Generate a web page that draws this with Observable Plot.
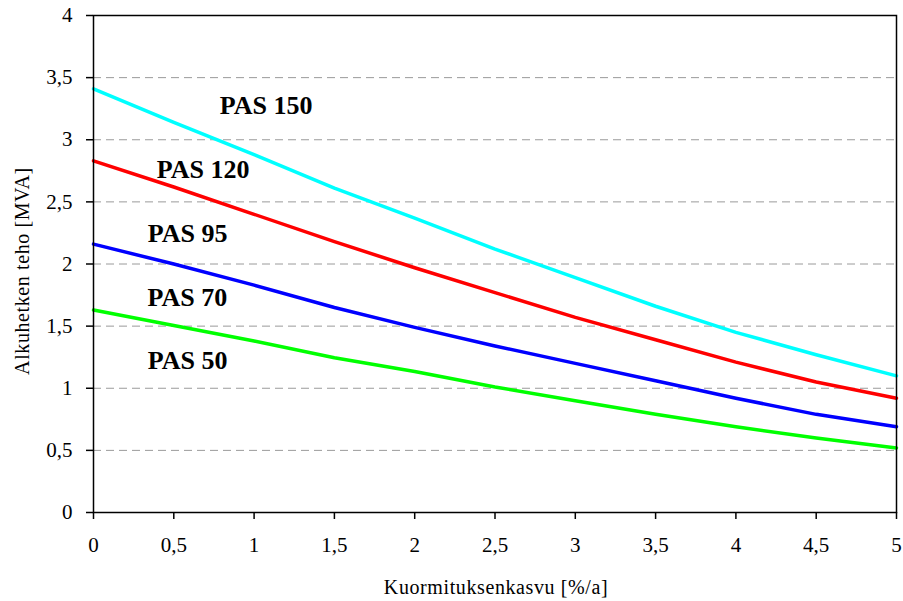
<!DOCTYPE html>
<html>
<head>
<meta charset="utf-8">
<script src="https://cdn.jsdelivr.net/npm/d3@7"></script>
<script src="https://cdn.jsdelivr.net/npm/@observablehq/plot@0.6"></script>
<style>
  html, body { margin: 0; padding: 0; background: #fff; }
  svg text { font-family: "Liberation Serif", "Times New Roman", serif; }
</style>
</head>
<body>
<div id="chart"></div>
<script>
// X values: load growth [%/a]
const growth = [0, 0.5, 1, 1.5, 2, 2.5, 3, 3.5, 4, 4.5, 5];

// Series values: initial power [MVA]
const cyanSeries  = [3.41, 3.14, 2.88, 2.61, 2.37, 2.12, 1.89, 1.66, 1.45, 1.27, 1.10];
const redSeries   = [2.83, 2.62, 2.40, 2.18, 1.97, 1.77, 1.57, 1.39, 1.21, 1.05, 0.92];
const blueSeries  = [2.16, 2.00, 1.83, 1.65, 1.49, 1.34, 1.20, 1.06, 0.92, 0.79, 0.69];
const greenSeries = [1.63, 1.505, 1.38, 1.245, 1.135, 1.01, 0.90, 0.79, 0.69, 0.60, 0.52];

const seriesNames  = ["s1", "s2", "s3", "s4"];
const seriesValues = [cyanSeries, redSeries, blueSeries, greenSeries];
const seriesColors = ["#00FFFF", "#FF0000", "#0000FF", "#00FF00"];

// In-plot labels
const labelTexts = ["PAS 150", "PAS 120", "PAS 95", "PAS 70", "PAS 50"];
const labelX     = [0.786, 0.394, 0.338, 0.336, 0.338];
const labelY     = [3.278, 2.763, 2.248, 1.725, 1.218];

// Ticks
const xTicks = [0, 0.5, 1, 1.5, 2, 2.5, 3, 3.5, 4, 4.5, 5];
const yTicks = [0, 0.5, 1, 1.5, 2, 2.5, 3, 3.5, 4];

const xTitle = "Kuormituksenkasvu [%/a]";
const yTitle = "Alkuhetken teho [MVA]";

const FONT = "Liberation Serif, Times New Roman, serif";
const fmt = d => String(d).replace(".", ",");

const rows = [];
seriesNames.forEach((s, i) => {
  growth.forEach((g, j) => rows.push({series: s, x: g, y: seriesValues[i][j]}));
});
const labels = labelTexts.map((t, i) => ({text: t, x: labelX[i], y: labelY[i]}));
const gridVals = yTicks.filter(v => v > 0 && v < 4);

const chart = Plot.plot({
  width: 903,
  height: 601,
  marginLeft: 93,
  marginRight: 7,
  marginTop: 15,
  marginBottom: 89,
  style: {fontFamily: FONT, fontSize: "21px", color: "black", background: "white"},
  x: {domain: [0, 5]},
  y: {domain: [0, 4]},
  color: {type: "ordinal", domain: seriesNames, range: seriesColors},
  marks: [
    Plot.ruleY(gridVals, {stroke: "#9a9a9a", strokeDasharray: "8,5", strokeWidth: 1}),
    Plot.line(rows, {x: "x", y: "y", z: "series", stroke: "series", strokeWidth: 3.5, strokeLinejoin: "round"}),
    Plot.text(labels, {x: "x", y: "y", text: "text", textAnchor: "start", fontSize: 26, fontWeight: "bold", fontFamily: FONT, fill: "black"}),
    Plot.frame({stroke: "black", strokeWidth: 1.5}),
    Plot.axisY({ticks: yTicks, tickFormat: fmt, tickSize: 7, tickPadding: 14, label: null, strokeWidth: 1.5, fontSize: 21, fontFamily: FONT}),
    Plot.axisX({ticks: xTicks, tickFormat: fmt, tickSize: 7, tickPadding: 18, label: null, strokeWidth: 1.5, fontSize: 21, fontFamily: FONT}),
    Plot.text([yTitle], {frameAnchor: "left", textAnchor: "middle", lineAnchor: "middle", dx: -71, dy: 7, rotate: -90, text: d => d, fontSize: 20, fontFamily: FONT, fill: "black"}),
    Plot.text([xTitle], {frameAnchor: "bottom", textAnchor: "middle", lineAnchor: "middle", dy: 75, dx: 1, text: d => d, fontSize: 20, fontFamily: FONT, fill: "black"})
  ]
});
d3.select(chart).selectAll("text")
  .filter(function() { return this.textContent === xTitle || this.textContent === yTitle; })
  .style("letter-spacing", "0.6px");
document.getElementById("chart").appendChild(chart);
</script>
</body>
</html>
